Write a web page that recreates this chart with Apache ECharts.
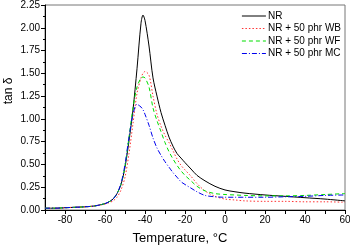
<!DOCTYPE html>
<html><head><meta charset="utf-8">
<script src="https://cdn.jsdelivr.net/npm/echarts@6/dist/echarts.min.js"></script>
<style>html,body{margin:0;padding:0;background:#fff}#c{width:350px;height:245px}</style>
</head><body><div id="c"></div>
<script>
const temps = [-90,-85,-80,-75,-70,-65,-60,-58,-56,-54,-52,-50,-48,-46,-44,-42,-41,-40,-38,-36,-34,-32,-30,-28,-26,-24,-22,-20,-17,-14,-10,-5,0,5,10,20,30,40,50,60];
const nr = [0.02,0.02,0.025,0.03,0.035,0.045,0.07,0.09,0.12,0.18,0.28,0.47,0.76,1.10,1.55,2.05,2.14,2.08,1.80,1.45,1.25,1.07,0.93,0.80,0.70,0.62,0.57,0.52,0.45,0.38,0.32,0.26,0.22,0.20,0.185,0.165,0.15,0.135,0.12,0.10];
const wb = [0.02,0.02,0.025,0.03,0.035,0.045,0.065,0.08,0.10,0.14,0.22,0.36,0.62,0.95,1.28,1.45,1.50,1.52,1.48,1.25,1.05,0.92,0.82,0.74,0.65,0.56,0.49,0.44,0.37,0.29,0.21,0.15,0.12,0.11,0.10,0.095,0.095,0.09,0.09,0.085];
const wf = [0.02,0.02,0.025,0.03,0.035,0.045,0.07,0.09,0.12,0.18,0.28,0.48,0.80,1.12,1.35,1.45,1.46,1.45,1.35,1.12,0.98,0.86,0.74,0.64,0.56,0.49,0.43,0.38,0.32,0.26,0.21,0.18,0.17,0.165,0.16,0.155,0.155,0.16,0.17,0.18];
const mc = [0.02,0.02,0.025,0.03,0.035,0.045,0.07,0.09,0.12,0.18,0.29,0.50,0.80,1.05,1.16,1.13,1.10,1.05,0.93,0.79,0.68,0.60,0.53,0.47,0.41,0.36,0.31,0.28,0.24,0.20,0.16,0.145,0.14,0.14,0.14,0.14,0.145,0.15,0.16,0.165];
const names = ['NR','NR + 50 phr WB','NR + 50 phr WF','NR + 50 phr MC'];
const yTicks = ['0.00','0.25','0.50','0.75','1.00','1.25','1.50','1.75','2.00','2.25'];
const yTitle = 'tan δ';

const chart = echarts.init(document.getElementById('c'));
const pair = arr => temps.map((t,i)=>[t,arr[i]]);
const font = 'Liberation Sans, Arial, sans-serif';
const styles = [
  {color:'#000000', type:'solid'},
  {color:'#ff3333', type:[1.5,2]},
  {color:'#00dd00', type:[4,3]},
  {color:'#0000ee', type:[5,2,1,2]}
];
chart.setOption({
  animation:false,
  grid:{left:45,right:5,top:5,bottom:35,show:true,borderColor:'#777',borderWidth:1,
        containLabel:false, outerBoundsMode:'none'},
  graphic:[{
    type:'text', x:9, y:91, rotation:Math.PI/2,
    style:{text:yTitle, fontSize:12, fontFamily:font, fill:'#000', align:'center', verticalAlign:'middle'}
  }],
  legend:{
    orient:'vertical', right:4, top:6, itemWidth:24, itemHeight:10, itemGap:2.5,
    itemStyle:{opacity:0},
    lineStyle:{width:1},
    textStyle:{fontSize:10, fontFamily:font, color:'#000', padding:[0,0,0,-3]},
    data:names
  },
  xAxis:{
    type:'value', min:-90, max:60, interval:10,
    name:'Temperature, °C', nameLocation:'middle', nameGap:22,
    nameTextStyle:{fontSize:13, fontFamily:font, color:'#000', padding:[0,30,0,0]},
    axisLine:{onZero:false, lineStyle:{color:'#000'}},
    axisTick:{show:true, length:4, lineStyle:{color:'#000'}},
    minorTick:{show:false},
    axisLabel:{fontSize:10, fontFamily:font, color:'#000', margin:5,
      formatter:v => (Math.round(v) % 20 === 0) ? String(v) : ''},
    splitLine:{show:false}
  },
  yAxis:{
    type:'value', min:0, max:2.25, interval:0.25,
    axisLine:{show:true, onZero:false, lineStyle:{color:'#000'}},
    axisTick:{show:true, length:4, lineStyle:{color:'#000'}},
    minorTick:{show:true, splitNumber:2, length:2, lineStyle:{color:'#000'}},
    axisLabel:{fontSize:10, fontFamily:font, color:'#000', margin:5,
      formatter:(v)=> yTicks[Math.round(v/0.25)]},
    splitLine:{show:false}
  },
  series:[nr,wb,wf,mc].map((d,i)=>({
    name:names[i], type:'line', data:pair(d), showSymbol:false, symbol:'none',
    smooth:0.3, color:styles[i].color,
    lineStyle:{width:1, color:styles[i].color, type:styles[i].type}
  }))
});
</script></body></html>
